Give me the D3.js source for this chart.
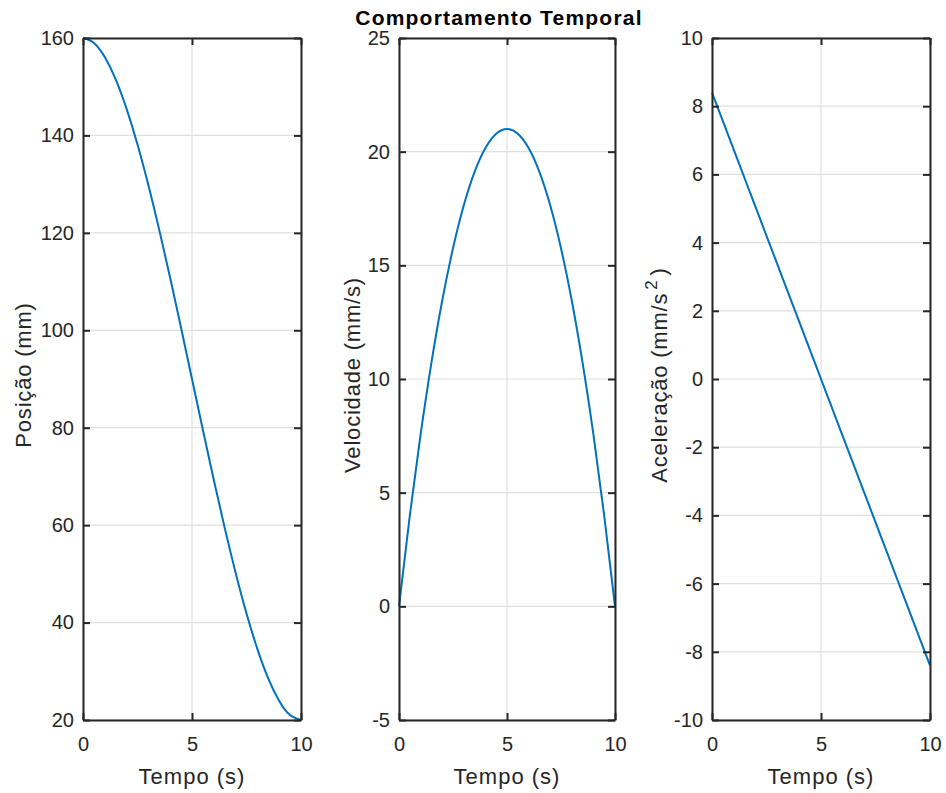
<!DOCTYPE html>
<html>
<head>
<meta charset="utf-8">
<script src="https://cdn.jsdelivr.net/npm/d3@7"></script>
<style>
  body { margin: 0; background: #fff; }
  svg { font-family: "Liberation Sans", Arial, sans-serif; }
</style>
</head>
<body>
<svg id="chart" width="946" height="793"></svg>
<script>
// --- data ---
const tempo = [0, 0.5, 1, 1.5, 2, 2.5, 3, 3.5, 4, 4.5, 5, 5.5, 6, 6.5, 7, 7.5, 8, 8.5, 9, 9.5, 10];
const posicao = [160, 158.99, 156.08, 151.5, 145.44, 138.13, 129.76, 120.56, 110.72, 100.47, 90,
                 79.53, 69.28, 59.44, 50.24, 41.87, 34.56, 28.5, 23.92, 21.01, 20];
const velocidade = [0, 3.99, 7.56, 10.71, 13.44, 15.75, 17.64, 19.11, 20.16, 20.79, 21,
                    20.79, 20.16, 19.11, 17.64, 15.75, 13.44, 10.71, 7.56, 3.99, 0];
const aceleracao = [8.4, 7.56, 6.72, 5.88, 5.04, 4.2, 3.36, 2.52, 1.68, 0.84, 0,
                    -0.84, -1.68, -2.52, -3.36, -4.2, -5.04, -5.88, -6.72, -7.56, -8.4];

const xTicks = [0, 5, 10];
const posTicks = [20, 40, 60, 80, 100, 120, 140, 160];
const velTicks = [-5, 0, 5, 10, 15, 20, 25];
const acelTicks = [-10, -8, -6, -4, -2, 0, 2, 4, 6, 8, 10];

const titulo = "Comportamento Temporal";
const xLabel = "Tempo (s)";

const svg = d3.select("#chart");
const plotTop = 38, plotBottom = 720;
const axisColor = "#262626";
const lineColor = "#0072BD";

const panels = [
  { x0: 83, x1: 301, values: posicao, domain: [20, 160], ticks: posTicks, label: ["Posição (mm)"], labelX: 23 },
  { x0: 399, x1: 615, values: velocidade, domain: [-5, 25], ticks: velTicks, label: ["Velocidade (mm/s)"], labelX: 352 },
  { x0: 712, x1: 930, values: aceleracao, domain: [-10, 10], ticks: acelTicks, label: ["Aceleração (mm/s", "2", ")"], labelX: 659 }
];

panels.forEach(p => {
  const x = d3.scaleLinear().domain([0, 10]).range([p.x0, p.x1]);
  const y = d3.scaleLinear().domain(p.domain).range([plotBottom, plotTop]);
  const g = svg.append("g");

  // grid
  g.append("g").selectAll("line").data(xTicks).join("line")
    .attr("x1", d => x(d)).attr("x2", d => x(d))
    .attr("y1", plotTop).attr("y2", plotBottom)
    .attr("stroke", "#dfdfdf").attr("stroke-width", 1.2);
  g.append("g").selectAll("line").data(p.ticks).join("line")
    .attr("x1", p.x0).attr("x2", p.x1)
    .attr("y1", d => y(d)).attr("y2", d => y(d))
    .attr("stroke", "#dfdfdf").attr("stroke-width", 1.2);

  // line
  const line = d3.line()
    .x((d, i) => x(tempo[i]))
    .y(d => y(d))
    .curve(d3.curveNatural);
  g.append("path")
    .datum(p.values)
    .attr("d", line)
    .attr("fill", "none")
    .attr("stroke", lineColor)
    .attr("stroke-width", 2);

  // axes (ticks pointing inward, box on); plain hyphen for negatives like MATLAB
  const tl = 7;
  const fmt = d => String(d);
  const bottomAxis = g.append("g").attr("transform", `translate(0,${plotBottom})`)
    .call(d3.axisBottom(x).tickValues(xTicks).tickSizeInner(-tl).tickSizeOuter(0).tickPadding(17).tickFormat(fmt));
  const topAxis = g.append("g").attr("transform", `translate(0,${plotTop})`)
    .call(d3.axisTop(x).tickValues(xTicks).tickSizeInner(-tl).tickSizeOuter(0).tickFormat(""));
  const leftAxis = g.append("g").attr("transform", `translate(${p.x0},0)`)
    .call(d3.axisLeft(y).tickValues(p.ticks).tickSizeInner(-tl).tickSizeOuter(0).tickPadding(9).tickFormat(fmt));
  const rightAxis = g.append("g").attr("transform", `translate(${p.x1},0)`)
    .call(d3.axisRight(y).tickValues(p.ticks).tickSizeInner(-tl).tickSizeOuter(0).tickFormat(""));

  [bottomAxis, topAxis, leftAxis, rightAxis].forEach(a => {
    a.select(".domain").attr("stroke", axisColor).attr("stroke-width", 2);
    a.selectAll(".tick line").attr("stroke", axisColor).attr("stroke-width", 2);
    a.selectAll(".tick text").attr("fill", axisColor).attr("font-size", 20)
      .attr("font-family", "'Liberation Sans', Arial, sans-serif");
  });
  bottomAxis.selectAll(".tick text").attr("dy", "0.71em");

  // x label
  g.append("text")
    .attr("x", (p.x0 + p.x1) / 2).attr("y", 784)
    .attr("text-anchor", "middle")
    .attr("font-size", 22).attr("fill", axisColor)
    .attr("letter-spacing", 1)
    .text(xLabel);

  // y label
  const yl = g.append("text")
    .attr("transform", `translate(${p.labelX},375) rotate(-90)`)
    .attr("text-anchor", "middle")
    .attr("dy", "0.35em")
    .attr("font-size", 22).attr("fill", axisColor)
    .attr("letter-spacing", 0.8);
  if (p.label.length === 1) {
    yl.text(p.label[0]);
  } else {
    yl.append("tspan").text(p.label[0]);
    yl.append("tspan").attr("font-size", 17).attr("dx", 3).attr("dy", "-0.6em").text(p.label[1]);
    yl.append("tspan").attr("dx", 4).attr("dy", "0.45em").text(p.label[2]);
  }
});

// title
svg.append("text")
  .attr("x", 499).attr("y", 25)
  .attr("text-anchor", "middle")
  .attr("font-size", 21).attr("font-weight", "bold")
  .attr("letter-spacing", 1.2)
  .attr("fill", "#000")
  .text(titulo);
</script>
</body>
</html>
